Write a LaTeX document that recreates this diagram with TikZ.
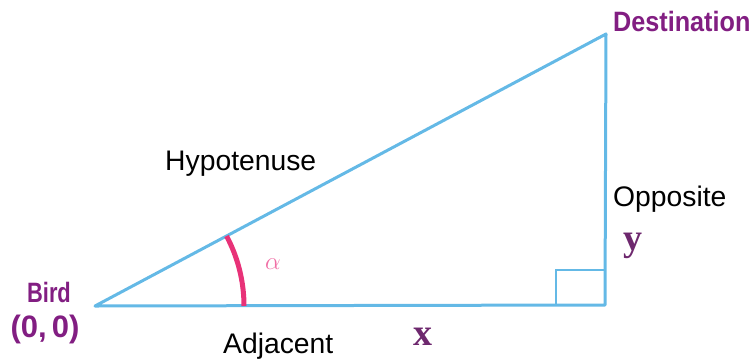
\documentclass[tikz,border=0pt]{standalone}
\usepackage{fontspec}
\setmainfont{Liberation Sans}
\newfontfamily\lserif{Liberation Serif}
\definecolor{lineblue}{RGB}{100,185,230}
\definecolor{labpurple}{RGB}{130,30,130}
\definecolor{varpurple}{RGB}{110,40,110}
\definecolor{anglepink}{RGB}{232,50,120}
\definecolor{alphapink}{RGB}{240,110,165}
\begin{document}
\begin{tikzpicture}[x=1pt,y=-1pt,
  side/.style={draw=lineblue,line width=3pt,line cap=round,line join=round},
  plain/.style={font=\fontsize{28.3}{30}\selectfont,text=black,inner sep=0pt},
  place/.style={font=\bfseries\fontsize{28}{30}\selectfont,text=labpurple,inner sep=0pt},
  var/.style={font=\lserif\bfseries\fontsize{38}{40}\selectfont,text=varpurple,inner sep=0pt}]
\useasboundingbox (0,0) rectangle (753,360);
\coordinate (B) at (95,306);
\coordinate (R) at (605,305);
\coordinate (D) at (606,34);
\draw[side] (B) -- (R) -- (D) -- cycle;
\draw[draw=lineblue,line width=2pt] (556,305) -- (556,270) -- (605,270);
\draw[draw=anglepink,line width=5pt] (B) ++(0:149) arc[start angle=0,end angle=-28,radius=149];
\node[plain,anchor=base west] (hyp) at (165,170) {Hypotenuse};
\node[plain,anchor=base west] (opp) at (613,206) {Opposite};
\node[plain,anchor=base west] (adj) at (223,353) {Adjacent};
\node[place,anchor=base,xscale=0.78] (bird) at (49,302) {Bird};
\node[font=\bfseries\fontsize{31}{32}\selectfont,text=labpurple,inner sep=0pt,anchor=base] (orig) at (45,337) {(0,\,0)};
\node[place,anchor=base west,xscale=0.9] (dest) at (613,31) {Destination};
\node[var,anchor=base] (xl) at (423,345) {x};
\node[var,anchor=base] (yl) at (633,250) {y};
\node[text=alphapink,inner sep=0pt,font=\fontsize{28}{28}\selectfont] (alpha) at (273,264) {$\alpha$};
\end{tikzpicture}
\end{document}
